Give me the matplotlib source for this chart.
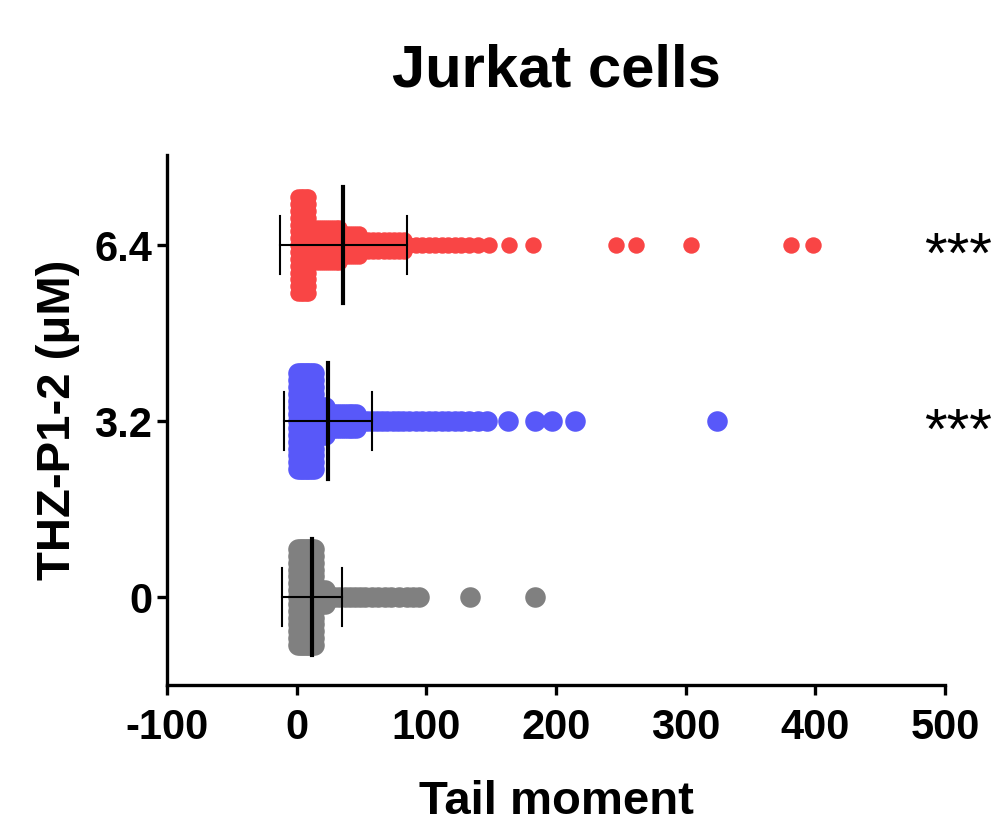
import numpy as np
import matplotlib.pyplot as plt

plt.rcParams['font.family'] = ['Liberation Sans', 'DejaVu Sans']
plt.rcParams['axes.unicode_minus'] = False

# data (tail moment values, grouped value -> count)
doses = [0, 3.2, 6.4]
dose_labels = ['0', '3.2', '6.4']
colors = ['#808080', '#5858F9', '#F94545']

gray_vals = [1, 3, 5, 7, 9, 11, 13, 16, 19, 22, 25, 29, 33, 37, 41, 45, 49, 53, 58,
             63, 68, 73, 79, 85, 90, 94, 134, 184]
gray_counts = [15, 15, 15, 15, 15, 15, 15, 2, 2, 2, 1, 1, 1, 1, 1, 1, 1, 1, 1,
               1, 1, 1, 1, 1, 1, 1, 1, 1]

blue_vals = [1, 3, 5, 7, 9, 11, 13, 16, 19, 22, 25, 28, 31, 34, 37, 40, 43, 46,
             50, 54, 58, 62, 66, 70, 74, 78, 82, 87, 92, 97, 102, 107, 112, 117,
             122, 127, 133, 140, 147, 163, 184, 197, 215, 324]
blue_counts = [15, 15, 15, 15, 15, 15, 15, 3, 3, 3, 2, 2, 2, 2, 2, 2, 2, 2,
               1, 1, 1, 1, 1, 1, 1, 1, 1, 1, 1, 1, 1, 1, 1, 1,
               1, 1, 1, 1, 1, 1, 1, 1, 1, 1]

red_vals = [1, 3, 5, 7, 9, 12, 15, 18, 21, 24, 27, 30, 33, 36, 39, 42, 45, 48,
            51, 55, 59, 63, 67, 71, 75, 79, 83, 87, 92, 97, 102, 107, 112, 117,
            122, 127, 133, 140, 148, 164, 182, 246, 262, 304, 381, 398]
red_counts = [15, 15, 15, 15, 15, 4, 4, 4, 4, 4, 4, 4, 4, 3, 3, 3, 3, 3,
              2, 2, 2, 2, 2, 2, 2, 2, 2, 1, 1, 1, 1, 1, 1, 1,
              1, 1, 1, 1, 1, 1, 1, 1, 1, 1, 1, 1]

means = [12, 24, 36]
sds = [23, 34, 49]
signif = ['', '***', '***']

groups = [(gray_vals, gray_counts, 20), (blue_vals, blue_counts, 20), (red_vals, red_counts, 16)]

fig = plt.figure(figsize=(10.02, 8.25), dpi=100)
ax = fig.add_axes([167 / 1002, 1 - 685 / 825, 778 / 1002, 530 / 825])
ax.set_xlim(-100, 500)
ax.set_ylim(-1.6, 8.04)
y_px = 530 / (8.04 + 1.6)   # pixels per y unit


def swarm_offsets(counts, diam, cap, frac=0.7):
    offs = []
    for n in counts:
        step = diam * frac
        if n > 1:
            step = min(step, 2 * cap / (n - 1))
        offs.append((np.arange(n) - (n - 1) / 2) * step)
    return np.concatenate(offs) / y_px


for i, (vals, cnts, diam) in enumerate(groups):
    x = np.repeat(vals, cnts)
    y = doses[i] + swarm_offsets(cnts, diam, 48)
    ms = (diam * 0.74) ** 2
    ax.scatter(x, y, s=ms, color=colors[i], linewidths=0, zorder=2)
    # mean and SD
    m, sd = means[i], sds[i]
    ax.plot([m, m], [doses[i] - 1.06, doses[i] + 1.06], color='black', lw=3, zorder=3)
    ax.plot([m - sd, m + sd], [doses[i], doses[i]], color='black', lw=1.5, zorder=3)
    for e in (m - sd, m + sd):
        ax.plot([e, e], [doses[i] - 0.53, doses[i] + 0.53], color='black', lw=1.5, zorder=3)
    if signif[i]:
        ax.text(484, doses[i] - 0.5, signif[i], fontsize=42, ha='left', va='baseline',
                clip_on=False)

ax.spines['top'].set_visible(False)
ax.spines['right'].set_visible(False)
for s in ['left', 'bottom']:
    ax.spines[s].set_linewidth(2.4)
ax.set_xticks([-100, 0, 100, 200, 300, 400, 500])
ax.set_yticks(doses)
ax.set_yticklabels(dose_labels)
ax.tick_params(axis='both', width=2.4, length=7.5, labelsize=30)
ax.tick_params(axis='x', pad=9)
ax.tick_params(axis='y', pad=3)
for lab in ax.get_xticklabels() + ax.get_yticklabels():
    lab.set_fontweight('bold')

ax.set_title('Jurkat cells', fontsize=43, fontweight='bold', pad=49)
ax.set_xlabel('Tail moment', fontsize=34, fontweight='bold')
ax.xaxis.set_label_coords(0.5, -0.179)
ax.set_ylabel('THZ-P1-2 (μM)', fontsize=34, fontweight='bold')
ax.yaxis.set_label_coords(-0.112, 0.5)

fig.savefig('out.png', dpi=100)
